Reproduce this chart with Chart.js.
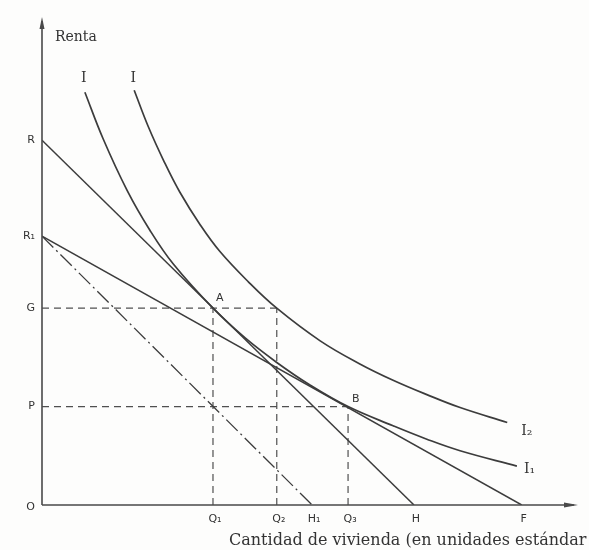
<!DOCTYPE html>
<html>
<head>
<meta charset="utf-8">
<script src="https://cdn.jsdelivr.net/npm/chart.js@4.4.1/dist/chart.umd.min.js"></script>
<style>
  html, body { margin: 0; padding: 0; background: #fdfdfc; }
  #wrap { width: 589px; height: 550px; }
</style>
</head>
<body>
<div id="wrap"><canvas id="c" width="589" height="550"></canvas></div>
<script>
// key levels on the axes (arbitrary units, 0..100)
var yTickNames  = ['R', 'R\u2081', 'G', 'P', 'O'];
var yTickValues = [76, 56, 41, 20.5, 0];
var xTickNames  = ['Q\u2081', 'Q\u2082', 'H\u2081', 'Q\u2083', 'H', 'F'];
var xTickValues = [31.9, 43.8, 50.4, 57.1, 69.4, 89.5];

// budget lines
var lineRH   = [{x: 0, y: 76}, {x: 69.4, y: 0}];
var lineR1F  = [{x: 0, y: 56}, {x: 89.5, y: 0}];
var lineR1H1 = [{x: 0, y: 56}, {x: 50.4, y: 0}];

// indifference curves
var curveI1 = [
  {x: 8.0, y: 86.0}, {x: 11.4, y: 76.3}, {x: 15.9, y: 65.5}, {x: 20.1, y: 57.3},
  {x: 24.5, y: 50.2}, {x: 31.9, y: 41.0}, {x: 37.9, y: 34.8}, {x: 43.8, y: 29.7},
  {x: 50.0, y: 25.0}, {x: 57.1, y: 20.5}, {x: 65.5, y: 16.5}, {x: 71.8, y: 13.7},
  {x: 78.0, y: 11.3}, {x: 88.6, y: 8.1}
];
var curveI2 = [
  {x: 17.2, y: 86.4}, {x: 19.8, y: 78.9}, {x: 22.8, y: 71.5}, {x: 25.7, y: 65.2},
  {x: 29.5, y: 58.4}, {x: 33.2, y: 52.8}, {x: 38.5, y: 46.5}, {x: 43.8, y: 41.0},
  {x: 51.9, y: 34.2}, {x: 59.3, y: 29.4}, {x: 65.5, y: 26.0}, {x: 71.8, y: 23.0},
  {x: 78.0, y: 20.3}, {x: 86.8, y: 17.2}
];

// dashed guides
var guideG  = [{x: 0, y: 41}, {x: 43.8, y: 41}];
var guideQ1 = [{x: 31.9, y: 0}, {x: 31.9, y: 41}];
var guideQ2 = [{x: 43.8, y: 0}, {x: 43.8, y: 41}];
var guideP  = [{x: 0, y: 20.5}, {x: 57.1, y: 20.5}];
var guideQ3 = [{x: 57.1, y: 0}, {x: 57.1, y: 20.5}];

var INK = '#3c3c3c';
var SERIF = '"DejaVu Serif", "Liberation Serif", serif';

function solid(data, w) {
  return {data: data, borderColor: INK, borderWidth: w || 1.5, pointRadius: 0, fill: false};
}
function dashed(data) {
  return {data: data, borderColor: '#505050', borderWidth: 1.2, borderDash: [7, 5], pointRadius: 0, fill: false};
}

var curve1 = solid(curveI1, 1.7); curve1.tension = 0.4;
var curve2 = solid(curveI2, 1.7); curve2.tension = 0.4;
var dashDot = solid(lineR1H1, 1.3); dashDot.borderDash = [16, 4, 2, 4];

var labelsPlugin = {
  id: 'diagramText',
  beforeDraw: function (chart) {
    var ctx = chart.ctx;
    ctx.save();
    ctx.fillStyle = '#fdfdfc';
    ctx.fillRect(0, 0, chart.width, chart.height);
    ctx.restore();
  },
  afterDraw: function (chart) {
    var ctx = chart.ctx, xs = chart.scales.x, ys = chart.scales.y;
    var x0 = xs.getPixelForValue(0), y0 = ys.getPixelForValue(0);
    ctx.save();
    // axes
    ctx.strokeStyle = '#4a4a4a';
    ctx.lineWidth = 1.6;
    ctx.beginPath();
    ctx.moveTo(x0, y0); ctx.lineTo(x0, ys.getPixelForValue(100) - 4);
    ctx.moveTo(x0, y0); ctx.lineTo(xs.getPixelForValue(100) - 4, y0);
    ctx.stroke();
    ctx.fillStyle = '#4a4a4a';
    var yt = ys.getPixelForValue(100) - 8;
    ctx.beginPath();
    ctx.moveTo(x0, yt); ctx.lineTo(x0 - 2.5, yt + 12); ctx.lineTo(x0 + 2.5, yt + 12); ctx.closePath(); ctx.fill();
    var xt = xs.getPixelForValue(100);
    ctx.beginPath();
    ctx.moveTo(xt, y0); ctx.lineTo(xt - 14, y0 - 2.5); ctx.lineTo(xt - 14, y0 + 2.5); ctx.closePath(); ctx.fill();

    ctx.fillStyle = '#333';
    ctx.textBaseline = 'middle';
    // y tick names
    ctx.font = '11px "DejaVu Sans", sans-serif';
    ctx.textAlign = 'right';
    for (var i = 0; i < yTickNames.length; i++) {
      ctx.fillText(yTickNames[i], x0 - 7, ys.getPixelForValue(yTickValues[i]) + (i === 4 ? 2 : 0));
    }
    // x tick names
    ctx.textAlign = 'center';
    ctx.textBaseline = 'top';
    for (var j = 0; j < xTickNames.length; j++) {
      ctx.fillText(xTickNames[j], xs.getPixelForValue(xTickValues[j]) + 2, y0 + 9);
    }
    // point labels
    ctx.textAlign = 'left';
    ctx.textBaseline = 'middle';
    ctx.fillText('A', xs.getPixelForValue(31.9) + 3, ys.getPixelForValue(41) - 10);
    ctx.fillText('B', xs.getPixelForValue(57.1) + 4, ys.getPixelForValue(20.5) - 7);

    // curve names
    ctx.font = '14px ' + SERIF;
    ctx.textAlign = 'center';
    ctx.fillText('I', xs.getPixelForValue(curveI1[0].x) - 1, ys.getPixelForValue(curveI1[0].y) - 14);
    ctx.fillText('I', xs.getPixelForValue(curveI2[0].x) - 1, ys.getPixelForValue(curveI2[0].y) - 12);
    ctx.textAlign = 'left';
    var e2 = curveI2[curveI2.length - 1], e1 = curveI1[curveI1.length - 1];
    ctx.fillText('I\u2082', xs.getPixelForValue(e2.x) + 14, ys.getPixelForValue(e2.y) + 9);
    ctx.fillText('I\u2081', xs.getPixelForValue(e1.x) + 7, ys.getPixelForValue(e1.y) + 3);

    // axis titles
    ctx.font = '14px ' + SERIF;
    ctx.fillText('Renta', x0 + 13, ys.getPixelForValue(100) + 12);
    ctx.font = '16px ' + SERIF;
    ctx.textBaseline = 'alphabetic';
    ctx.fillText('Cantidad de vivienda (en unidades est\u00e1ndar', 229, 545);
    ctx.restore();
  }
};

new Chart(document.getElementById('c'), {
  type: 'line',
  data: {
    datasets: [
      solid(lineRH), solid(lineR1F), dashDot, curve1, curve2,
      dashed(guideG), dashed(guideQ1), dashed(guideQ2), dashed(guideP), dashed(guideQ3)
    ]
  },
  options: {
    responsive: false,
    animation: false,
    devicePixelRatio: 1,
    layout: {padding: {left: 42, right: 11, top: 25, bottom: 45}},
    plugins: {legend: {display: false}, tooltip: {enabled: false}, title: {display: false}},
    scales: {
      x: {type: 'linear', min: 0, max: 100, display: false},
      y: {type: 'linear', min: 0, max: 100, display: false}
    }
  },
  plugins: [labelsPlugin]
});
</script>
</body>
</html>
